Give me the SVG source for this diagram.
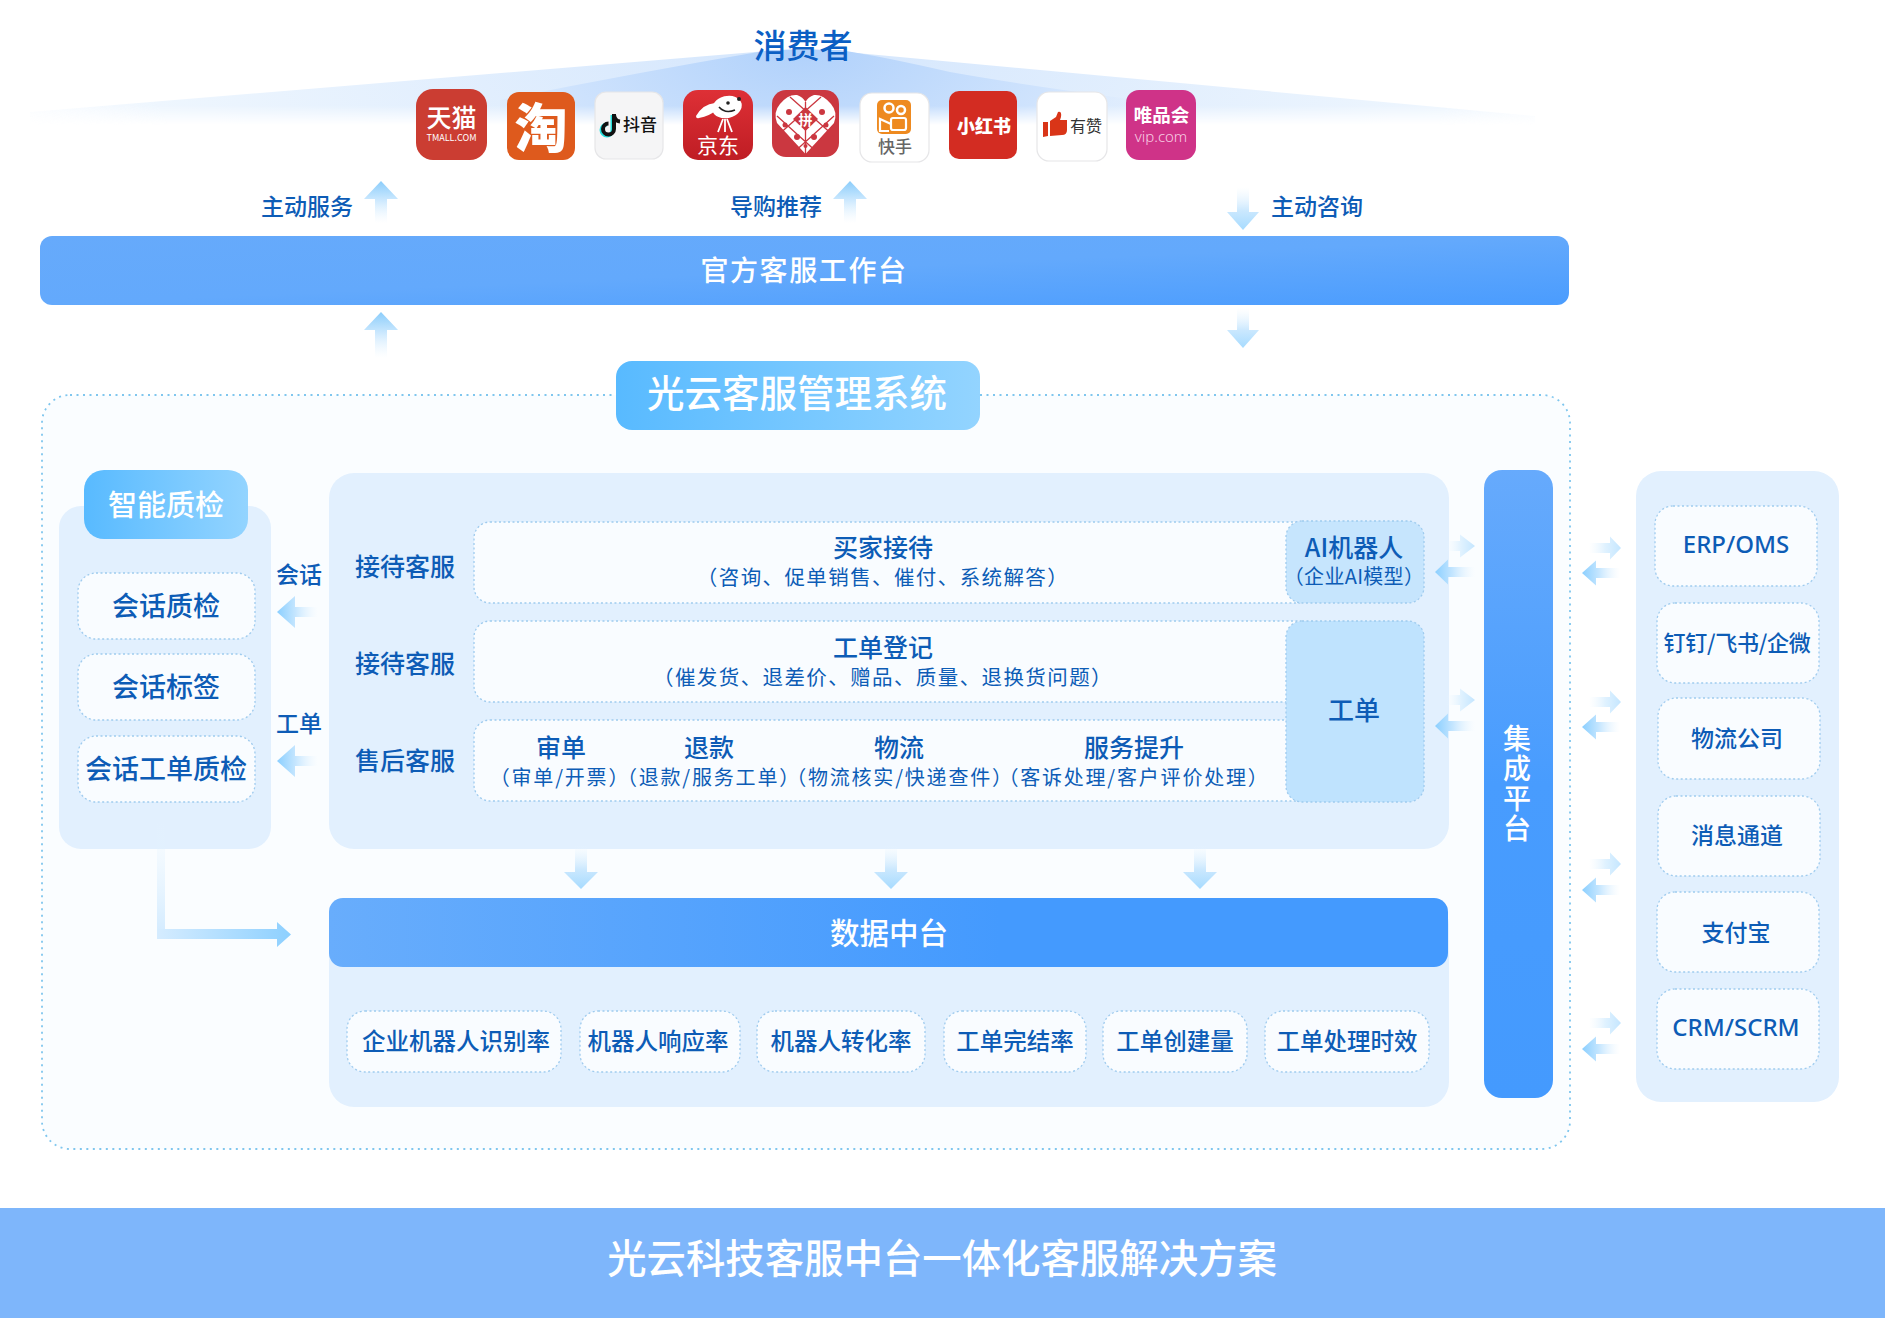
<svg xmlns="http://www.w3.org/2000/svg" width="1885" height="1318" viewBox="0 0 1885 1318">
<style>
text{font-family:"Noto Sans CJK SC","Noto Sans",sans-serif;text-anchor:middle;dominant-baseline:central;transform:translateY(-2.4px)}
.b{fill:#0d5cb6;font-weight:500}
.s{fill:#0d5cb6;font-weight:400;font-size:20.5px;letter-spacing:1.4px}
.h{fill:#0d5cb6;font-weight:400;font-size:20px;letter-spacing:1.8px;font-feature-settings:"halt"}
.t{fill:#fff;font-weight:500}
.l{font-size:25px}
.lat{font-family:"Noto Sans",sans-serif;font-size:24px}
.panel{fill:#e2f0fe}
.cell{fill:#f9fcff;stroke:#9fcbee;stroke-width:1.3;stroke-dasharray:2 2.5}
.cyan{fill:#bfe3fe;stroke:#9fcbee;stroke-width:1.3;stroke-dasharray:2 2.5}
.u{fill:url(#gU)}.d{fill:url(#gD)}.w{fill:url(#gW)}.e{fill:url(#gE)}
.ic{stroke:#e6e6e8;stroke-width:1.2}
</style>
<defs>
<linearGradient id="gU" x1="0" y1="0" x2="0" y2="1"><stop offset="0" stop-color="#8bcdfb"/><stop offset=".45" stop-color="#cbe8fe"/><stop offset="1" stop-color="#e8f5ff" stop-opacity="0"/></linearGradient>
<linearGradient id="gD" x1="0" y1="1" x2="0" y2="0"><stop offset="0" stop-color="#a6dbff"/><stop offset=".45" stop-color="#cbe8fe"/><stop offset="1" stop-color="#e8f5ff" stop-opacity="0"/></linearGradient>
<linearGradient id="gW" x1="0" y1="0" x2="1" y2="0"><stop offset="0" stop-color="#8bcfff"/><stop offset=".45" stop-color="#c5e6ff"/><stop offset="1" stop-color="#e8f5ff" stop-opacity="0"/></linearGradient>
<linearGradient id="gE" x1="1" y1="0" x2="0" y2="0"><stop offset="0" stop-color="#c4e6ff"/><stop offset=".5" stop-color="#e0f2ff"/><stop offset="1" stop-color="#eff8ff" stop-opacity="0"/></linearGradient>
<linearGradient id="gV" x1="0" y1="0" x2="0" y2="1"><stop offset="0" stop-color="#e6f4ff" stop-opacity="0"/><stop offset="1" stop-color="#d5ecff"/></linearGradient>
<linearGradient id="gH" x1="0" y1="0" x2="1" y2="0"><stop offset="0" stop-color="#d5ecff"/><stop offset="1" stop-color="#8dd0ff"/></linearGradient>
<linearGradient id="bar" x1="0" y1="0" x2="1" y2="1"><stop offset="0" stop-color="#66aafb"/><stop offset=".5" stop-color="#63a9fc"/><stop offset="1" stop-color="#4a9cfe"/></linearGradient>
<linearGradient id="bar2" x1="0" y1="0" x2="1" y2="0"><stop offset="0" stop-color="#68adfc"/><stop offset=".6" stop-color="#449afe"/><stop offset="1" stop-color="#449afe"/></linearGradient>
<linearGradient id="barV" x1="0" y1="0" x2="0" y2="1"><stop offset="0" stop-color="#66aafc"/><stop offset=".5" stop-color="#489cfe"/><stop offset="1" stop-color="#449afe"/></linearGradient>
<linearGradient id="head" x1="0" y1="0" x2="1" y2="0"><stop offset="0" stop-color="#58baff"/><stop offset="1" stop-color="#93d4ff"/></linearGradient>
<linearGradient id="jd" x1="0" y1="0" x2="0" y2="1"><stop offset="0" stop-color="#de3036"/><stop offset="1" stop-color="#bf1d24"/></linearGradient>
<radialGradient id="f1" gradientUnits="userSpaceOnUse" cx="803" cy="48" r="880" gradientTransform="translate(0 30) scale(1 .4)"><stop offset="0" stop-color="#d4e6fd"/><stop offset=".75" stop-color="#eef6fe"/><stop offset="1" stop-color="#f8fbff" stop-opacity="0"/></radialGradient>
<radialGradient id="f2" gradientUnits="userSpaceOnUse" cx="803" cy="48" r="420" gradientTransform="translate(0 25) scale(1 .5)"><stop offset="0" stop-color="#b0d1fb"/><stop offset=".6" stop-color="#cfe3fd"/><stop offset="1" stop-color="#eaf3fe" stop-opacity="0"/></radialGradient>
<linearGradient id="mg" gradientUnits="userSpaceOnUse" x1="0" y1="48" x2="0" y2="125"><stop offset=".75" stop-color="#fff"/><stop offset="1" stop-color="#000"/></linearGradient>
<mask id="fade" maskUnits="userSpaceOnUse" x="0" y="0" width="1885" height="200"><rect width="1885" height="200" fill="url(#mg)"/></mask>
</defs>
<rect width="1885" height="1318" fill="#fff"/>
<g id="fan" mask="url(#fade)">
<path d="M803 48 L30 112 V130 H1535 V116 Z" fill="url(#f1)"/>
<path d="M770 50 Q640 72 500 100 V130 H1250 V114 Q1050 90 950 72 Q880 56 840 50 Z" fill="url(#f2)"/>
</g>
<g id="consumer"><text class="b" x="803" y="46" font-size="33" style="fill:#0b5fc4">消费者</text></g>
<g id="icon-tmall"><rect x="416" y="89" width="71" height="71" rx="17" fill="#cb3d32"/><text x="451.500" y="118" font-size="25" fill="#fff" font-weight="500">天猫</text><text x="451.500" y="140" font-size="9" fill="#fff" textLength="50" lengthAdjust="spacingAndGlyphs">TMALL.COM</text></g>
<g id="icon-taobao"><rect x="507" y="92" width="68" height="68" rx="12" fill="#de5a1d"/><text x="541" y="127" font-size="53" fill="#fff" font-weight="900">淘</text></g>
<g id="icon-douyin"><rect class="ic" x="595" y="92" width="68" height="67" rx="11" fill="#f5f5f6"/><path d="M612.500 115V130a5.500 5.500 0 1 1-5.500-5.500" fill="none" stroke="#27e0dc" stroke-width="4"/><path d="M614 114V129a5.500 5.500 0 1 1-5.500-5.500M614 115q1 6 6 6.500" fill="none" stroke="#111" stroke-width="4"/><text x="640" y="126" font-size="17" fill="#111" font-weight="500">抖音</text></g>
<g id="icon-jd"><rect x="683" y="90" width="70" height="70" rx="15" fill="url(#jd)"/><ellipse cx="727" cy="107" rx="15" ry="11" transform="rotate(-14 727 107)" fill="#fff"/><path d="M715 103Q703 104 696 116Q696 119 699 118Q710 116 716 110Z" fill="#fff"/><path d="M719 107Q725 114 735 110" fill="none" stroke="#222" stroke-width="1.600"/><circle cx="728" cy="103" r="1.800" fill="#222"/><circle cx="739" cy="99" r="2" fill="#222"/><path d="M723 119L718 132M725 119V132M727 119L732 132" stroke="#fff" stroke-width="1.800"/><text x="718" y="146" font-size="21" fill="#fff">京东</text></g>
<g id="icon-pdd"><rect x="772" y="90" width="67" height="67" rx="14" fill="#cb3740"/><path d="M805.500 154L777 123Q773 112 780 104Q788 94 797 95Q803 97 805.500 102Q808 97 814 95Q823 94 831 104Q838 112 834 123Z" fill="#fff"/><path d="M805.500 102V154M777 116L819 154M834 116L792 154M790 97L834 136M821 97L777 136" stroke="#cb3740" stroke-width="1.300" fill="none"/><path d="M805.500 107L818 119L805.500 131L793 119Z" fill="#cb3740"/><g fill="#cb3740"><circle cx="789" cy="112" r="3"/><circle cx="822" cy="112" r="3"/><circle cx="785" cy="125" r="2.500"/><circle cx="826" cy="125" r="2.500"/><circle cx="797" cy="137" r="3"/><circle cx="814" cy="137" r="3"/><circle cx="805.500" cy="146" r="2"/></g><text x="805.500" y="121" font-size="14" fill="#fff" font-weight="700">拼</text></g>
<g id="icon-kuaishou"><rect class="ic" x="860" y="93" width="69" height="69" rx="12" fill="#fff"/><rect x="877" y="100" width="34" height="34" rx="5" fill="#ee8a20"/><circle cx="889" cy="108" r="4.500" fill="none" stroke="#fff" stroke-width="2.500"/><circle cx="901" cy="110" r="4" fill="none" stroke="#fff" stroke-width="2.500"/><rect x="891" y="118" width="15" height="12" rx="2" fill="none" stroke="#fff" stroke-width="2.200"/><path d="M891 124L880 119V131H889" fill="none" stroke="#fff" stroke-width="2.200"/><text x="895" y="148" font-size="17" fill="#666" font-weight="500">快手</text></g>
<g id="icon-xhs"><rect x="949" y="91" width="68" height="68" rx="10" fill="#d32c22"/><text x="984" y="127" font-size="18" fill="#fff" font-weight="900">小红书</text></g>
<g id="icon-youzan"><rect class="ic" x="1037" y="92" width="70" height="69" rx="12" fill="#fff"/><path d="M1043 122H1048V136L1043 137ZM1050 121L1056 117L1058 112Q1062 111 1061 117L1060 120H1067V130Q1067 135 1062 135L1050 136Z" fill="#d93518"/><text x="1086" y="127" font-size="16" fill="#333">有赞</text></g>
<g id="icon-vip"><rect x="1126" y="90" width="70" height="70" rx="13" fill="#cf3388"/><text x="1161.500" y="116" font-size="18.500" fill="#fff" font-weight="700">唯品会</text><text x="1161" y="138" font-size="15" fill="#f7cde3" font-weight="300" style="font-family:'Noto Sans',sans-serif">vip.com</text></g>
<g id="workbench"><rect x="40" y="236" width="1529" height="69" rx="12" fill="url(#bar)"/><text class="t" x="804" y="271" font-size="28" letter-spacing="1.600">官方客服工作台</text></g>
<g id="system"><rect x="42" y="395" width="1528" height="754" rx="28" fill="#fafdff" stroke="#7fc6ee" stroke-width="1.800" stroke-dasharray="2 4.500"/><rect x="616" y="361" width="364" height="69" rx="16" fill="url(#head)"/><text class="t" x="797" y="393" font-size="37.500">光云客服管理系统</text></g>
<g id="quality">
<rect class="panel" x="59" y="506" width="212" height="343" rx="22"/>
<rect x="84" y="470" width="164" height="69" rx="20" fill="url(#head)"/><text class="t" x="166" y="505" font-size="29">智能质检</text>
<g id="q1"><rect class="cell" x="78" y="573" width="177" height="66" rx="18"/><text class="b" x="166" y="607" font-size="27">会话质检</text></g>
<g id="q2"><rect class="cell" x="78" y="654" width="177" height="66" rx="18"/><text class="b" x="166" y="688" font-size="27">会话标签</text></g>
<g id="q3"><rect class="cell" x="78" y="736" width="177" height="66" rx="18"/><text class="b" x="166" y="770" font-size="27">会话工单质检</text></g>
</g>
<g id="service">
<rect class="panel" x="329" y="473" width="1120" height="376" rx="25"/>
<text class="b l" x="405" y="567">接待客服</text><text class="b l" x="405" y="664">接待客服</text><text class="b l" x="405" y="761">售后客服</text>
<g id="row1"><rect class="cell" x="474" y="522" width="840" height="81" rx="16"/><text class="b l" x="883" y="548">买家接待</text><text class="s" x="883" y="578">（咨询、促单销售、催付、系统解答）</text></g>
<g id="row2"><rect class="cell" x="474" y="621" width="840" height="81" rx="16"/><text class="b l" x="883" y="648">工单登记</text><text class="s" x="883" y="678">（催发货、退差价、赠品、质量、退换货问题）</text></g>
<g id="row3"><rect class="cell" x="474" y="720" width="840" height="81" rx="16"/>
<text class="b l" x="561" y="748">审单</text><text class="b l" x="709" y="748">退款</text><text class="b l" x="899" y="748">物流</text><text class="b l" x="1134" y="748">服务提升</text>
<text class="h" x="560" y="779">（审单/开票）</text><text class="h" x="709" y="779">（退款/服务工单）</text><text class="h" x="900" y="779">（物流核实/快递查件）</text><text class="h" x="1134" y="779">（客诉处理/客户评价处理）</text></g>
<g id="ai"><rect class="cyan" x="1286" y="521" width="138" height="82" rx="16" style="fill:#c6e5fd"/><text class="b l" x="1354" y="548">AI机器人</text><text class="h" x="1354" y="578" style="letter-spacing:.3px">（企业AI模型）</text></g>
<g id="ticket"><rect class="cyan" x="1286" y="621" width="138" height="181" rx="16"/><text class="b" x="1354" y="711" font-size="26">工单</text></g>
</g>
<g id="data">
<rect class="panel" x="329" y="900" width="1120" height="207" rx="25"/>
<rect x="329" y="898" width="1119" height="69" rx="14" fill="url(#bar2)"/><text class="t" x="889" y="933" font-size="29.500">数据中台</text>
<g id="m1"><rect class="cell" x="347" y="1011" width="214" height="61" rx="18"/><text class="b" x="456" y="1042" font-size="23.500">企业机器人识别率</text></g>
<g id="m2"><rect class="cell" x="580" y="1011" width="160" height="61" rx="18"/><text class="b" x="658" y="1042" font-size="23.500">机器人响应率</text></g>
<g id="m3"><rect class="cell" x="757" y="1011" width="168" height="61" rx="18"/><text class="b" x="841" y="1042" font-size="23.500">机器人转化率</text></g>
<g id="m4"><rect class="cell" x="944" y="1011" width="142" height="61" rx="18"/><text class="b" x="1015" y="1042" font-size="23.500">工单完结率</text></g>
<g id="m5"><rect class="cell" x="1103" y="1011" width="144" height="61" rx="18"/><text class="b" x="1175" y="1042" font-size="23.500">工单创建量</text></g>
<g id="m6"><rect class="cell" x="1265" y="1011" width="164" height="61" rx="18"/><text class="b" x="1347" y="1042" font-size="23.500">工单处理时效</text></g>
</g>
<g id="integration"><rect x="1484" y="470" width="69" height="628" rx="18" fill="url(#barV)"/><text class="t" font-size="28" x="1517" y="787" letter-spacing="2" style="writing-mode:vertical-rl">集成平台</text></g>
<g id="external">
<rect class="panel" x="1636" y="471" width="203" height="631" rx="25"/>
<g id="x1"><rect class="cell" x="1655" y="506" width="162" height="80" rx="18"/><text class="b lat" x="1736" y="546">ERP/OMS</text></g>
<g id="x2"><rect class="cell" x="1657" y="603" width="162" height="80" rx="18"/><text class="b" x="1737" y="643" font-size="22" letter-spacing="-.3">钉钉/飞书/企微</text></g>
<g id="x3"><rect class="cell" x="1658" y="698" width="162" height="81" rx="18"/><text class="b" x="1737" y="739" font-size="23">物流公司</text></g>
<g id="x4"><rect class="cell" x="1658" y="796" width="162" height="80" rx="18"/><text class="b" x="1737" y="836" font-size="23">消息通道</text></g>
<g id="x5"><rect class="cell" x="1657" y="892" width="162" height="80" rx="18"/><text class="b" x="1736" y="933" font-size="23">支付宝</text></g>
<g id="x6"><rect class="cell" x="1657" y="989" width="162" height="80" rx="18"/><text class="b lat" x="1736" y="1029">CRM/SCRM</text></g>
</g>
<g id="connectors">
<path class="u" d="M381 181L398 199H387V223H375V199H364Z"/>
<path class="u" d="M381 312L398 330H387V358H375V330H364Z"/>
<path class="u" d="M850 181L867 199H856V223H844V199H833Z"/>
<path class="d" d="M1243 230L1227 212H1237V187H1249V212H1259Z"/>
<path class="d" d="M1243 348L1227 330H1237V308H1249V330H1259Z"/>
<path class="d" d="M581 889L564 872H575V845H587V872H598Z"/>
<path class="d" d="M891 889L874 872H885V845H897V872H908Z"/>
<path class="d" d="M1200 889L1183 872H1194V845H1206V872H1217Z"/>
<path class="w" d="M277 612L295 596V607H318V617H295V628Z"/>
<path class="w" d="M277 761L295 745V756H318V766H295V777Z"/>
<rect x="157" y="820" width="8" height="109" fill="url(#gV)"/>
<path d="M157 929H277V922L291 934.500L277 947V939H157Z" fill="url(#gH)"/>
<path class="e" d="M1475 546L1460 534.500V541H1447V551H1460V557.500Z"/>
<path class="w" d="M1435 572L1448 559.500V567H1475V577H1448V584.500Z"/>
<path class="e" d="M1475 700L1460 688.500V695H1447V705H1460V711.500Z"/>
<path class="w" d="M1435 726L1448 713.500V721H1475V731H1448V738.500Z"/>
<path class="e" d="M1621 548L1610 536.500V543H1589V553H1610V559.500Z"/>
<path class="w" d="M1582 573L1596 560.500V568H1620V578H1596V585.500Z"/>
<path class="e" d="M1621 702L1610 690.500V697H1589V707H1610V713.500Z"/>
<path class="w" d="M1582 727L1596 714.500V722H1620V732H1596V739.500Z"/>
<path class="e" d="M1621 864L1610 852.500V859H1589V869H1610V875.500Z"/>
<path class="w" d="M1582 890L1596 877.500V885H1620V895H1596V902.500Z"/>
<path class="e" d="M1621 1023L1610 1011.500V1018H1589V1028H1610V1034.500Z"/>
<path class="w" d="M1582 1049L1596 1036.500V1044H1620V1054H1596V1061.500Z"/>
</g>
<g id="labels">
<text class="b" x="307" y="207" font-size="23">主动服务</text><text class="b" x="776" y="207" font-size="23">导购推荐</text><text class="b" x="1317" y="207" font-size="23">主动咨询</text>
<text class="b" x="299" y="575" font-size="23">会话</text><text class="b" x="299" y="724" font-size="23">工单</text>
</g>
<g id="banner"><rect x="0" y="1208" width="1885" height="110" fill="#7eb6fb"/><text class="t" x="942" y="1258" font-size="39.400">光云科技客服中台一体化客服解决方案</text></g>
</svg>
